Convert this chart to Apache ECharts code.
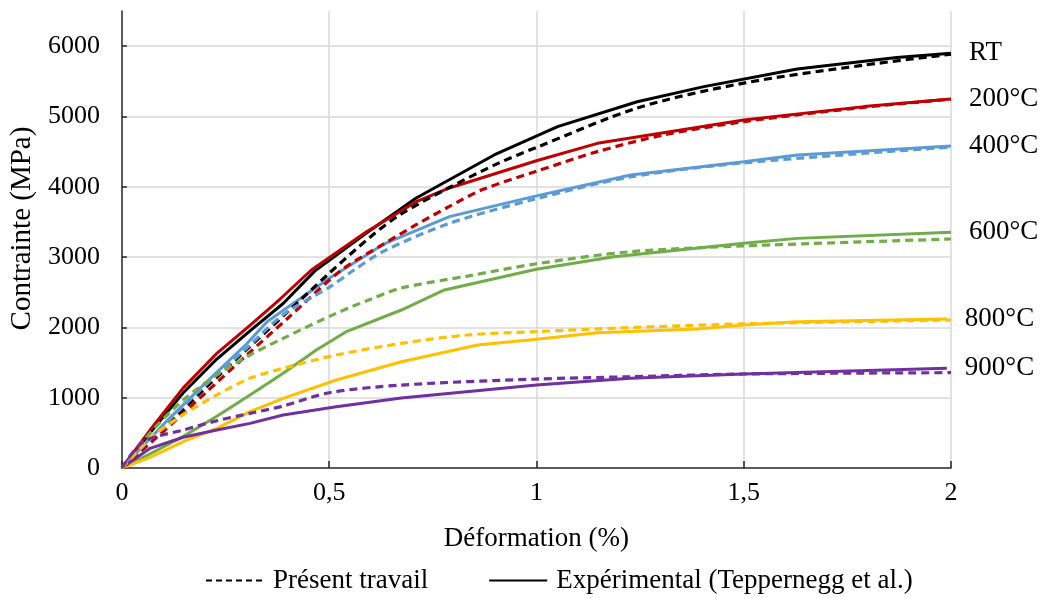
<!DOCTYPE html>
<html>
<head>
<meta charset="utf-8">
<script src="https://cdn.jsdelivr.net/npm/echarts@6/dist/echarts.min.js"></script>
<style>
html,body{margin:0;padding:0;background:#fff;}
#chart{width:1047px;height:598px;}
</style>
</head>
<body>
<div id="chart"></div>
<script>
// ---- data ----
const xTickValues = [0, 0.5, 1, 1.5, 2];
const xTickLabels = ['0', '0,5', '1', '1,5', '2'];
const yTickValues = [0, 1000, 2000, 3000, 4000, 5000, 6000];

const curveLabels = ['RT', '200°C', '400°C', '600°C', '800°C', '900°C'];
const curveColors = ['#000000', '#C00000', '#5B9BD5', '#70AD47', '#FFC000', '#7030A0'];

// Experimental (solid)
const rtExp = [[0,0],[0.068,500],[0.148,1070],[0.229,1550],[0.309,1950],[0.389,2340],[0.465,2800],[0.59,3343],[0.71,3840],[0.898,4452],[1.051,4855],[1.243,5210],[1.404,5424],[1.629,5675],[1.869,5840],[2.0,5900]];
const t200Exp = [[0,0],[0.068,540],[0.148,1140],[0.229,1630],[0.309,2030],[0.381,2400],[0.457,2816],[0.59,3361],[0.71,3788],[0.79,3983],[1.0,4370],[1.147,4618],[1.5,4950],[1.79,5140],[2.0,5250]];
const t400Exp = [[0,0],[0.1,620],[0.2,1200],[0.3,1760],[0.35,2080],[0.5,2700],[0.55,2880],[0.63,3180],[0.79,3575],[1.0,3870],[1.227,4168],[1.5,4357],[1.63,4452],[2.0,4580]];
const t600Exp = [[0,0],[0.068,200],[0.148,450],[0.229,735],[0.309,1038],[0.389,1347],[0.469,1678],[0.54,1935],[0.674,2247],[0.778,2532],[1.0,2826],[1.187,3005],[1.5,3195],[1.629,3266],[2.0,3352]];
const t800Exp = [[0,0],[0.068,150],[0.148,374],[0.229,564],[0.309,801],[0.389,991],[0.517,1252],[0.674,1512],[0.858,1750],[1.0,1830],[1.147,1925],[1.388,1977],[1.5,2034],[1.629,2081],[1.99,2120]];
const t900Exp = [[0,0],[0.068,280],[0.148,437],[0.229,540],[0.309,635],[0.389,754],[0.517,872],[0.674,995],[1.0,1180],[1.227,1276],[1.5,1337],[1.99,1418]];

// Present work (dashed)
const rtMod = [[0,0],[0.1,560],[0.2,1130],[0.3,1680],[0.4,2220],[0.5,2770],[0.6,3290],[0.67,3600],[0.79,3990],[0.91,4340],[1.0,4560],[1.243,5120],[1.5,5475],[1.79,5730],[2.0,5885]];
const t200Mod = [[0,0],[0.1,520],[0.2,1060],[0.3,1600],[0.4,2130],[0.53,2816],[0.63,3180],[0.71,3460],[0.79,3720],[0.87,3960],[1.0,4220],[1.147,4500],[1.307,4737],[1.5,4926],[1.79,5130],[2.0,5245]];
const t400Mod = [[0,0],[0.1,600],[0.2,1170],[0.3,1700],[0.389,2180],[0.5,2570],[0.56,2816],[0.63,3080],[0.79,3480],[1.0,3830],[1.227,4140],[1.5,4340],[2.0,4565]];
const t600Mod = [[0,0],[0.068,498],[0.148,967],[0.229,1323],[0.309,1607],[0.389,1844],[0.517,2200],[0.6,2400],[0.674,2560],[0.834,2730],[1.0,2905],[1.227,3076],[1.5,3158],[2.0,3257]];
const t800Mod = [[0,0],[0.068,420],[0.148,760],[0.229,1040],[0.309,1276],[0.389,1418],[0.517,1607],[0.674,1773],[0.834,1892],[1.0,1940],[1.227,1997],[1.5,2050],[2.0,2105]];
const t900Mod = [[0,0],[0.052,374],[0.148,540],[0.229,673],[0.309,777],[0.389,882],[0.5,1070],[0.674,1180],[1.0,1265],[1.227,1298],[1.5,1337],[2.0,1356]];

const legendNames = ['Présent travail', 'Expérimental (Teppernegg et al.)'];
const axisNames = ['Déformation (%)', 'Contrainte (MPa)'];

// ---- chart ----
const expSets = [rtExp, t200Exp, t400Exp, t600Exp, t800Exp, t900Exp];
const modSets = [rtMod, t200Mod, t400Mod, t600Mod, t800Mod, t900Mod];
const FONT = "'Liberation Serif', 'Times New Roman', serif";

const series = [];
expSets.forEach((d, i) => {
  series.push({
    name: 'exp-' + curveLabels[i],
    type: 'line',
    data: d,
    symbol: 'none',
    smooth: false,
    lineStyle: { color: curveColors[i], width: 3, type: 'solid' },
    itemStyle: { color: curveColors[i] },
    z: 2,
    endLabel: {
      show: true,
      formatter: () => curveLabels[i],
      distance: 18,
      color: '#000',
      fontFamily: FONT,
      fontSize: 27
    }
  });
});
modSets.forEach((d, i) => {
  series.push({
    name: 'mod-' + curveLabels[i],
    type: 'line',
    data: d,
    symbol: 'none',
    smooth: 0.3,
    lineStyle: { color: curveColors[i], width: 3.2, type: [8, 5] },
    itemStyle: { color: curveColors[i] },
    z: 3
  });
});
// legend-only series
series.push({
  name: legendNames[0], type: 'line', data: [], symbol: 'none',
  lineStyle: { color: '#000', width: 2.5, type: [6, 4] }, itemStyle: { color: '#000' }
});
series.push({
  name: legendNames[1], type: 'line', data: [], symbol: 'none',
  lineStyle: { color: '#000', width: 2.5, type: 'solid' }, itemStyle: { color: '#000' }
});

const chart = echarts.init(document.getElementById('chart'), null, { renderer: 'canvas' });
chart.setOption({
  animation: false,
  backgroundColor: '#ffffff',
  textStyle: { fontFamily: FONT, color: '#000' },
  grid: { left: 120, right: 96, top: 11, bottom: 130, containLabel: false },
  legend: {
    data: legendNames,
    left: 200,
    top: 562,
    itemWidth: 58,
    itemHeight: 14,
    itemGap: 60,
    itemStyle: { opacity: 0 },
    textStyle: { fontFamily: FONT, fontSize: 27, color: '#000', padding: [0, 0, 0, 4] }
  },
  xAxis: {
    type: 'value',
    min: xTickValues[0],
    max: xTickValues[xTickValues.length - 1],
    interval: xTickValues[1] - xTickValues[0],
    name: axisNames[0],
    nameLocation: 'middle',
    nameGap: 57,
    nameTextStyle: { fontFamily: FONT, fontSize: 27, color: '#000' },
    axisLine: { show: true, lineStyle: { color: '#262626', width: 1.5 } },
    axisTick: { show: true, inside: true, length: 7, lineStyle: { color: '#262626', width: 1.5 } },
    axisLabel: {
      margin: 12,
      fontFamily: FONT, fontSize: 26, color: '#000',
      formatter: v => {
        const k = xTickValues.findIndex(t => Math.abs(t - v) < 1e-9);
        return k >= 0 ? xTickLabels[k] : '';
      }
    },
    splitLine: { show: true, showMinLine: false, lineStyle: { color: '#D9D9D9', width: 1.5 } }
  },
  yAxis: {
    type: 'value',
    min: 0,
    max: 6500,
    interval: yTickValues[1] - yTickValues[0],
    name: axisNames[1],
    nameLocation: 'middle',
    nameGap: 80,
    nameTextStyle: { fontFamily: FONT, fontSize: 29, color: '#000', padding: [0, 0, 0, 22] },
    axisLine: { show: true, lineStyle: { color: '#262626', width: 1.5 } },
    axisTick: { show: true, inside: true, length: 5, lineStyle: { color: '#262626', width: 1.5 } },
    axisLabel: {
      margin: 22,
      showMaxLabel: false,
      fontFamily: FONT, fontSize: 26, color: '#000',
      formatter: v => (yTickValues.indexOf(v) >= 0 ? String(v) : '')
    },
    splitLine: { show: true, showMinLine: false, showMaxLine: false, lineStyle: { color: '#D9D9D9', width: 1.5 } }
  },
  series: series
});
</script>
</body>
</html>
